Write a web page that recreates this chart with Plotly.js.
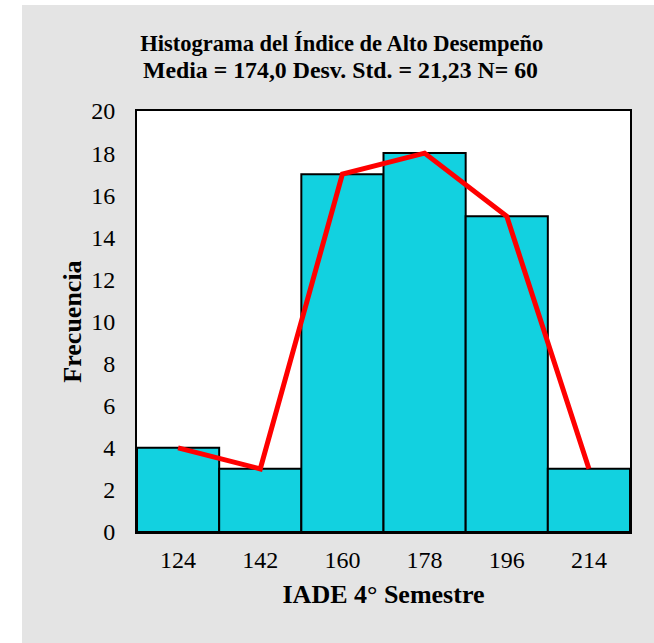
<!DOCTYPE html>
<html>
<head>
<meta charset="utf-8">
<script src="https://cdn.plot.ly/plotly-3.0.1.min.js"></script>
<style>
html, body { margin:0; padding:0; background:#ffffff; }
#chart { position:absolute; left:22px; top:5px; width:632px; height:638px; }
</style>
</head>
<body>
<div id="chart"></div>
<script>
const categories = ["124", "142", "160", "178", "196", "214"];
const frequencies = [4, 3, 17, 18, 15, 3];
const yTicks = [0, 2, 4, 6, 8, 10, 12, 14, 16, 18, 20];
const titleLine1 = "Histograma del Índice de Alto Desempeño";
const titleLine2 = "Media = 174,0 Desv. Std. = 21,23 N= 60";

const serif = "Liberation Serif, Times New Roman, serif";

const traces = [
  {
    type: "bar",
    x: categories,
    y: frequencies,
    marker: { color: "#12d1e0", line: { color: "#000000", width: 2 } },
    width: 1,
    hoverinfo: "skip"
  },
  {
    type: "scatter",
    mode: "lines",
    x: categories,
    y: frequencies,
    line: { color: "#ff0000", width: 5 },
    hoverinfo: "skip"
  }
];

const layout = {
  width: 632,
  height: 638,
  paper_bgcolor: "#e4e4e4",
  plot_bgcolor: "#ffffff",
  showlegend: false,
  bargap: 0,
  margin: { l: 115, r: 24, t: 106, b: 111 },
  font: { family: serif, color: "#000000", size: 24 },
  title: {
    text: "<b>" + titleLine1 + "</b>",
    font: { family: serif, size: 22.5, color: "#000000" },
    xref: "container",
    x: 0.506,
    xanchor: "center",
    yref: "container",
    y: 0.9404,
    yanchor: "middle"
  },
  annotations: [
    {
      text: "<b>" + titleLine2 + "</b>",
      font: { family: serif, size: 23.8, color: "#000000" },
      xref: "paper",
      yref: "paper",
      x: 0.412,
      y: 1.0975,
      xanchor: "center",
      yanchor: "middle",
      showarrow: false
    }
  ],
  xaxis: {
    type: "category",
    categoryorder: "array",
    categoryarray: categories,
    showline: true,
    mirror: true,
    linecolor: "#000000",
    linewidth: 2,
    showgrid: false,
    zeroline: false,
    ticks: "outside",
    ticklen: 5,
    tickcolor: "rgba(0,0,0,0)",
    tickfont: { family: serif, size: 24, color: "#000000" },
    title: { text: "<b>IADE 4° Semestre</b>", font: { family: serif, size: 26, color: "#000000" }, standoff: 13 }
  },
  yaxis: {
    range: [0, 20],
    tickvals: yTicks,
    ticktext: yTicks.map(String),
    showline: true,
    mirror: true,
    linecolor: "#000000",
    linewidth: 2,
    showgrid: false,
    zeroline: false,
    ticks: "outside",
    ticklen: 15,
    tickcolor: "rgba(0,0,0,0)",
    tickfont: { family: serif, size: 24, color: "#000000" },
    title: { text: "<b>Frecuencia</b>", font: { family: serif, size: 26, color: "#000000" }, standoff: 2 }
  }
};

Plotly.newPlot("chart", traces, layout, { displayModeBar: false, staticPlot: true });
</script>
</body>
</html>
